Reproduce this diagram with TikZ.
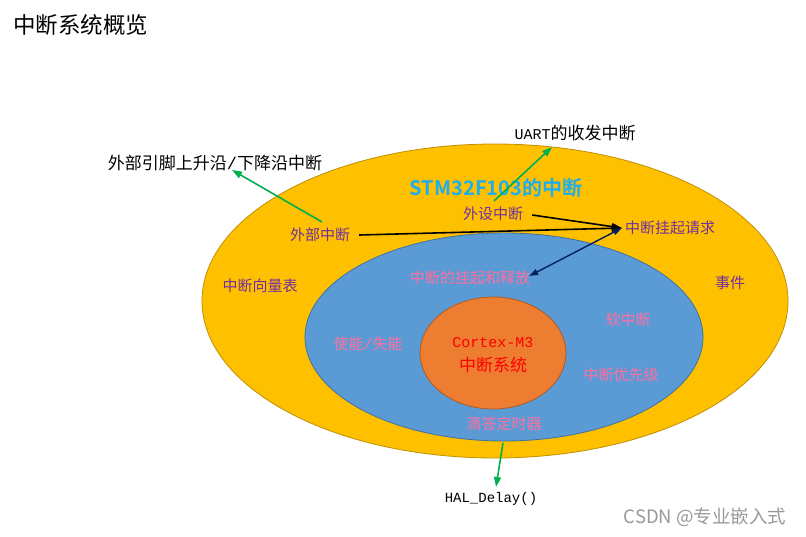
\documentclass[tikz,border=0pt]{standalone}
\usepackage{fontspec}
\usetikzlibrary{arrows.meta,calc}
\newfontfamily\cjk{Noto Sans CJK SC}
\newfontfamily\cjkbold{Noto Sans CJK SC Bold}
\newfontfamily\mono{Liberation Mono}
\definecolor{outerfill}{HTML}{FFC000}
\definecolor{outerline}{HTML}{BF9000}
\definecolor{bluefill}{HTML}{5B9BD5}
\definecolor{blueline}{HTML}{41719C}
\definecolor{orgfill}{HTML}{ED7D31}
\definecolor{orgline}{HTML}{AE5A21}
\definecolor{purp}{HTML}{7030A0}
\definecolor{pinkt}{HTML}{FF6FA0}
\definecolor{titleblue}{HTML}{1FAEEA}
\definecolor{greenarr}{HTML}{00B050}
\definecolor{navy}{HTML}{002060}
\tikzset{
  ptxt/.style={text=purp, font=\cjk\fontsize{15}{18}\selectfont, inner sep=1pt},
  pktxt/.style={text=pinkt, font=\cjk\fontsize{15}{18}\selectfont, inner sep=1pt},
  btxt/.style={text=black, font=\cjk\fontsize{17}{20}\selectfont, inner sep=1pt},
  garrow/.style={draw=greenarr, line width=1.6pt, -{Triangle[length=10pt,width=7pt]}},
  karrow/.style={draw=black, line width=1.6pt, -{Triangle[length=10pt,width=7pt]}},
  narrow/.style={draw=navy, line width=1.4pt, {Triangle[length=9pt,width=6pt]}-{Triangle[length=9pt,width=6pt]}},
}
\begin{document}
\begin{tikzpicture}[x=1pt,y=-1pt]
\useasboundingbox (0,0) rectangle (806,536);
\fill[white] (0,0) rectangle (806,536);
% ellipses
\filldraw[fill=outerfill, draw=outerline, line width=0.8pt] (495,301) ellipse [x radius=293pt, y radius=157pt];
\filldraw[fill=bluefill, draw=blueline, line width=0.8pt] (504,337) ellipse [x radius=199pt, y radius=104pt];
\filldraw[fill=orgfill, draw=orgline, line width=0.8pt] (493,353) ellipse [x radius=73pt, y radius=56pt];
% title
\node[anchor=west, inner sep=0pt, font=\cjk\fontsize{22.5}{26}\selectfont] (title) at (13,25) {中断系统概览};
% outside labels
\node[btxt] (wbyj) at (215,163) {外部引脚上升沿{\mono /}下降沿中断};
\node[btxt] (uart) at (575,133) {{\mono\fontsize{15}{18}\selectfont UART}的收发中断};
\node[inner sep=1pt, font=\mono\fontsize{14}{17}\selectfont] (hal) at (491,499) {HAL\_Delay()};
% outer ring labels
\node[text=titleblue, font=\cjkbold\fontsize{20}{24}\selectfont, inner sep=1pt] (stm) at (496,188) {STM32F103的中断};
\node[ptxt] (wszd) at (493,214) {外设中断};
\node[ptxt] (wbzd) at (320,235) {外部中断};
\node[ptxt] (gqqq) at (670,228) {中断挂起请求};
\node[ptxt] (xlb) at (260,286) {中断向量表};
\node[ptxt] (sj) at (730,283) {事件};
% blue ring labels
\node[pktxt] (gqsf) at (470,278) {中断的挂起和释放};
\node[pktxt] (rzd) at (628,320) {软中断};
\node[pktxt] (sn) at (368,344) {使能{\mono /}失能};
\node[pktxt] (yxj) at (621,375) {中断优先级};
\node[pktxt] (dd) at (504,424) {滴答定时器};
% core
\node[text=red, font=\mono\fontsize{15}{18}\selectfont, inner sep=1pt] (cm3) at (493,343) {Cortex-M3};
\node[text=red, font=\cjk\fontsize{17}{20}\selectfont, inner sep=1pt] (zdxt) at (493,365) {中断系统};
% watermark
\node[text=black!40, font=\cjk\fontsize{18.5}{22}\selectfont, inner sep=0pt] (csdn) at (705,517) {CSDN @专业嵌入式};
% arrow coordinates
\coordinate (g1s) at (322,222);
\coordinate (g1e) at (232,170);
\coordinate (g2s) at (494,201);
\coordinate (g2e) at (552,147);
\coordinate (g3s) at (503,443);
\coordinate (g3e) at (496,487);
% arrows
\draw[garrow] (g1s) -- (g1e);
\draw[garrow] (g2s) -- (g2e);
\draw[garrow] (g3s) -- (g3e);
\draw[karrow] ($(wbzd.east)+(8,0)$) -- ($(gqqq.west)+(-2,0)$);
\draw[karrow] ($(wszd.east)+(8,1)$) -- ($(gqqq.west)+(-2,0)$);
\draw[narrow] ($(gqsf.east)+(-2,-2)$) -- ($(gqqq.west)+(-2,0)$);
\end{tikzpicture}
\end{document}
